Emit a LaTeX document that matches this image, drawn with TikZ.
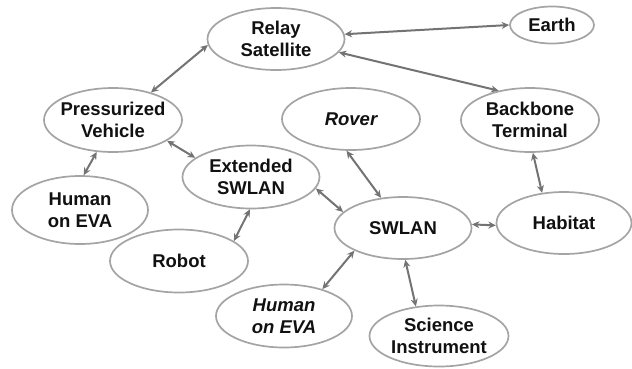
\documentclass[tikz,border=0pt]{standalone}
\usepackage{fontspec}
\setmainfont{Liberation Sans}
\usetikzlibrary{shapes.geometric,arrows.meta}
\definecolor{ringgray}{HTML}{A4A4A4}
\definecolor{arrowgray}{HTML}{737373}
\definecolor{txt}{HTML}{111111}
\begin{document}
\begin{tikzpicture}[x=1pt,y=-1pt,
  bubble/.style={ellipse, draw=ringgray, line width=1.7pt, fill=white,
    minimum width=137pt, minimum height=62pt, inner xsep=-8pt, inner ysep=-2pt,
    align=center, text=txt, font=\fontsize{18.5}{22}\selectfont\bfseries},
  link/.style={draw=arrowgray, line width=2pt,
    {Stealth[length=7.5pt,width=7pt]}-{Stealth[length=7.5pt,width=7pt]}}]
\useasboundingbox (0,0) rectangle (632,368);
\node[bubble] (relay) at (276,39) {Relay\\Satellite};
\node[bubble, minimum width=84pt, minimum height=37pt] (earth) at (552,25) {Earth};
\node[bubble, minimum width=138pt, minimum height=64pt] (pv) at (113,120) {Pressurized\\Vehicle};
\node[bubble, minimum width=138pt, minimum height=64pt] (bb) at (530,120) {Backbone\\Terminal};
\node[bubble, minimum width=138pt] (rover) at (351,119) {\itshape Rover};
\node[bubble, minimum height=63pt] (ext) at (251,177) {Extended\\SWLAN};
\node[bubble, minimum width=136pt, minimum height=68pt] (hl) at (80,210) {Human\\on EVA};
\node[bubble, minimum width=138pt, minimum height=63pt] (robot) at (179,261) {Robot};
\node[bubble] (swlan) at (403,228) {SWLAN};
\node[bubble, minimum width=135pt] (hab) at (564,223) {Habitat};
\node[bubble, minimum width=136pt, minimum height=63pt] (hb) at (284,316) {\itshape Human\\\itshape on EVA};
\node[bubble, minimum width=139pt, minimum height=61pt] (sci) at (439,336) {Science\\Instrument};
\path[link] (relay.185) -- (pv.36);
\path[link] (relay.4) -- (earth.180);
\path[link] (relay.-12) -- (bb.137);
\path[link] (pv.-21) -- (ext.161);
\path[link] (pv.-117) -- (hl.84);
\path[link] (ext.-92) -- (robot.20);
\path[link] (ext.-10) -- (swlan.165);
\path[link] (rover.-98) -- (swlan.126);
\path[link] (swlan.3) -- (hab.182);
\path[link] (bb.-85) -- (hab.126);
\path[link] (swlan.205) -- (hb.35);
\path[link] (swlan.-86) -- (sci.128);
\end{tikzpicture}
\end{document}
